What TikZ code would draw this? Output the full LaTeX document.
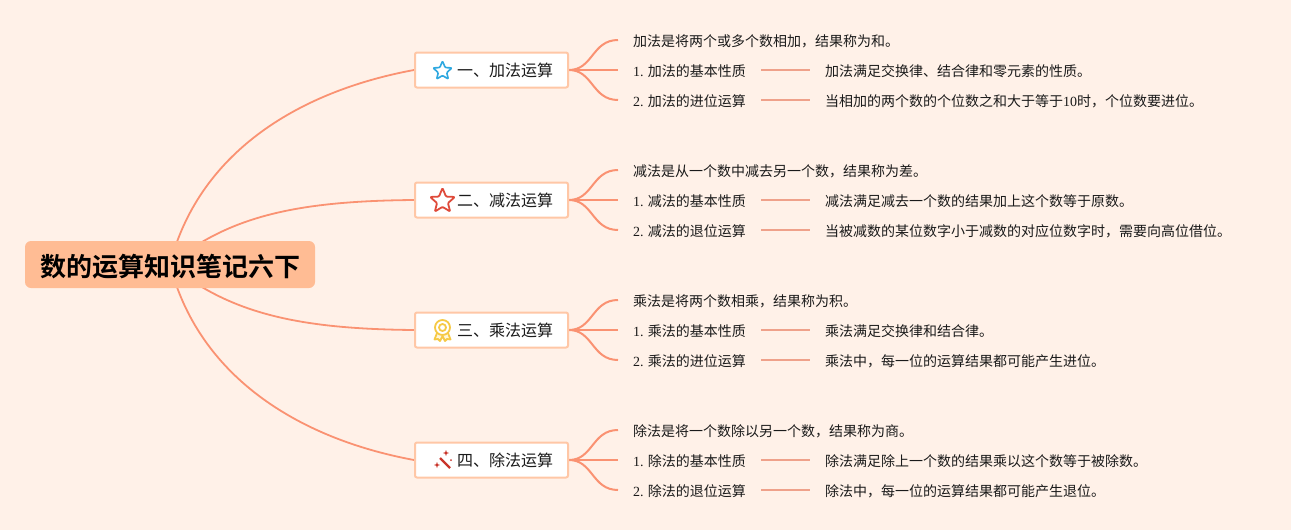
\documentclass[tikz,border=0pt]{standalone}
\usepackage{fontspec}
\setmainfont{Liberation Serif}
\newfontfamily\cjk{Noto Sans CJK SC}
\newfontfamily\cjkb{Noto Sans CJK SC Bold}
\usetikzlibrary{backgrounds}
\definecolor{bgc}{HTML}{FFF1E8}
\definecolor{rootc}{HTML}{FFBC94}
\definecolor{edgec}{HTML}{FFC7A6}
\definecolor{linkc}{HTML}{FA9272}
\definecolor{linkd}{HTML}{EFA18A}
\definecolor{txtc}{HTML}{1A1A1A}
\definecolor{bluec}{HTML}{2EA8E0}
\definecolor{redc}{HTML}{DF4A3A}
\definecolor{yelc}{HTML}{F6C945}
\definecolor{yelf}{HTML}{FFF6D8}
\definecolor{wandc}{HTML}{C9352B}
\tikzset{x=1pt,y=-1pt,
 rootbox/.style={fill=rootc,rounded corners=6pt,minimum width=290pt,minimum height=47pt,inner sep=0pt,text height=26pt,text depth=2pt,font=\fontsize{26}{30}\selectfont\cjkb,text=black},
 branchbox/.style={draw=edgec,line width=2pt,fill=white,rounded corners=2pt,minimum width=153pt,minimum height=35pt,inner sep=0pt},
 branchtext/.style={anchor=west,inner sep=0pt,text height=13pt,text depth=1pt,font=\fontsize{16}{18}\selectfont\cjk,text=txtc},
 leafbox/.style={anchor=west,inner xsep=15pt,inner ysep=0pt,text height=13pt,text depth=0pt,font=\fontsize{14}{16}\selectfont\cjk,text=txtc},
 mainlink/.style={draw=linkc,line width=1.8pt},
 sublink/.style={draw=linkc,line width=2pt},
 detlink/.style={draw=linkd,line width=2pt},
}
\newcommand{\starpath}[5]{% cx cy R colour lw
 \draw[#4,line width=#5,line join=round,rounded corners=1pt]
 (#1+#3*0,#2-#3*1) -- (#1+#3*0.27,#2-#3*0.34) -- (#1+#3*0.95,#2-#3*0.31) -- (#1+#3*0.42,#2+#3*0.16) -- (#1+#3*0.59,#2+#3*0.81) -- (#1,#2+#3*0.45) -- (#1-#3*0.59,#2+#3*0.81) -- (#1-#3*0.42,#2+#3*0.16) -- (#1-#3*0.95,#2-#3*0.31) -- (#1-#3*0.27,#2-#3*0.34) -- cycle;}
\newcommand{\lf}[1]{{\rmfamily #1}}
\begin{document}
\begin{tikzpicture}
\useasboundingbox (0,0) rectangle (1291,530);
\node[rootbox] (root) at (170,264.5) {数的运算知识笔记六下};
% branches
\node[branchbox] (b1) at (491.5,70) {};
\node[branchbox] (b2) at (491.5,200) {};
\node[branchbox] (b3) at (491.5,330) {};
\node[branchbox] (b4) at (491.5,460) {};
\node[branchtext] (t1) at (457,70) {一、加法运算};
\node[branchtext] (t2) at (457,200) {二、减法运算};
\node[branchtext] (t3) at (457,330) {三、乘法运算};
\node[branchtext] (t4) at (457,460) {四、除法运算};
% group 1
\node[leafbox] (a1) at (618,40) {加法是将两个或多个数相加，结果称为和。};
\node[leafbox] (a2) at (618,70) {\lf{1.} 加法的基本性质};
\node[leafbox] (a3) at (618,100) {\lf{2.} 加法的进位运算};
\node[leafbox] (a4) at (810,70) {加法满足交换律、结合律和零元素的性质。};
\node[leafbox] (a5) at (810,100) {当相加的两个数的个位数之和大于等于\lf{10}时，个位数要进位。};
% group 2
\node[leafbox] (c1) at (618,170) {减法是从一个数中减去另一个数，结果称为差。};
\node[leafbox] (c2) at (618,200) {\lf{1.} 减法的基本性质};
\node[leafbox] (c3) at (618,230) {\lf{2.} 减法的退位运算};
\node[leafbox] (c4) at (810,200) {减法满足减去一个数的结果加上这个数等于原数。};
\node[leafbox] (c5) at (810,230) {当被减数的某位数字小于减数的对应位数字时，需要向高位借位。};
% group 3
\node[leafbox] (d1) at (618,300) {乘法是将两个数相乘，结果称为积。};
\node[leafbox] (d2) at (618,330) {\lf{1.} 乘法的基本性质};
\node[leafbox] (d3) at (618,360) {\lf{2.} 乘法的进位运算};
\node[leafbox] (d4) at (810,330) {乘法满足交换律和结合律。};
\node[leafbox] (d5) at (810,360) {乘法中，每一位的运算结果都可能产生进位。};
% group 4
\node[leafbox] (e1) at (618,430) {除法是将一个数除以另一个数，结果称为商。};
\node[leafbox] (e2) at (618,460) {\lf{1.} 除法的基本性质};
\node[leafbox] (e3) at (618,490) {\lf{2.} 除法的退位运算};
\node[leafbox] (e4) at (810,460) {除法满足除上一个数的结果乘以这个数等于被除数。};
\node[leafbox] (e5) at (810,490) {除法中，每一位的运算结果都可能产生退位。};
\begin{scope}[on background layer]
 \fill[bgc] (0,0) rectangle (1291,530);
 \draw[mainlink] (root.center) .. controls (198,155) and (295,92) .. (b1.west);
 \draw[mainlink] (root.center) .. controls (230,215) and (300,201) .. (b2.west);
 \draw[mainlink] (root.center) .. controls (230,314) and (300,329) .. (b3.west);
 \draw[mainlink] (root.center) .. controls (198,374) and (295,438) .. (b4.west);
 \foreach \b/\p/\q/\r/\s/\u in {b1/a1/a2/a3/a4/a5,b2/c1/c2/c3/c4/c5,b3/d1/d2/d3/d4/d5,b4/e1/e2/e3/e4/e5}{
  \draw[sublink] (\b.east) .. controls ++(24,0) and ([xshift=-26pt]\p.west) .. (\p.west);
  \draw[sublink] (\b.east) -- (\q.west);
  \draw[sublink] (\b.east) .. controls ++(24,0) and ([xshift=-26pt]\r.west) .. (\r.west);
  \draw[detlink] (\q.east) -- (\s.west);
  \draw[detlink] (\r.east) -- (\u.west);
 }
\end{scope}
% icons
\starpath{442.5}{71}{10}{bluec}{1.6pt}
\starpath{442.5}{201}{13}{redc}{1.8pt}
% medal
\begin{scope}[draw=yelc,line width=1.8pt,line join=round]
 \draw[fill=yelf] (437,333) -- (434.5,339.5) -- (438,339) -- (440,341) -- (442.5,336) -- (445,341) -- (447,339) -- (450.5,339.5) -- (448,333);
 \draw[fill=white] (442.5,327.5) circle (7.5pt);
 \draw (442.5,327.5) circle (3.5pt);
\end{scope}
% wand
\begin{scope}[wandc]
 \draw[line width=2.4pt] (440,458) -- (450,468);
 \fill (446,450) -- (446.8,452.2) -- (449,453) -- (446.8,453.8) -- (446,456) -- (445.2,453.8) -- (443,453) -- (445.2,452.2) -- cycle;
 \fill (437,462) -- (437.8,464.2) -- (440,465) -- (437.8,465.8) -- (437,468) -- (436.2,465.8) -- (434,465) -- (436.2,464.2) -- cycle;
 \fill (451,460) circle (1pt);
\end{scope}
\end{tikzpicture}
\end{document}
